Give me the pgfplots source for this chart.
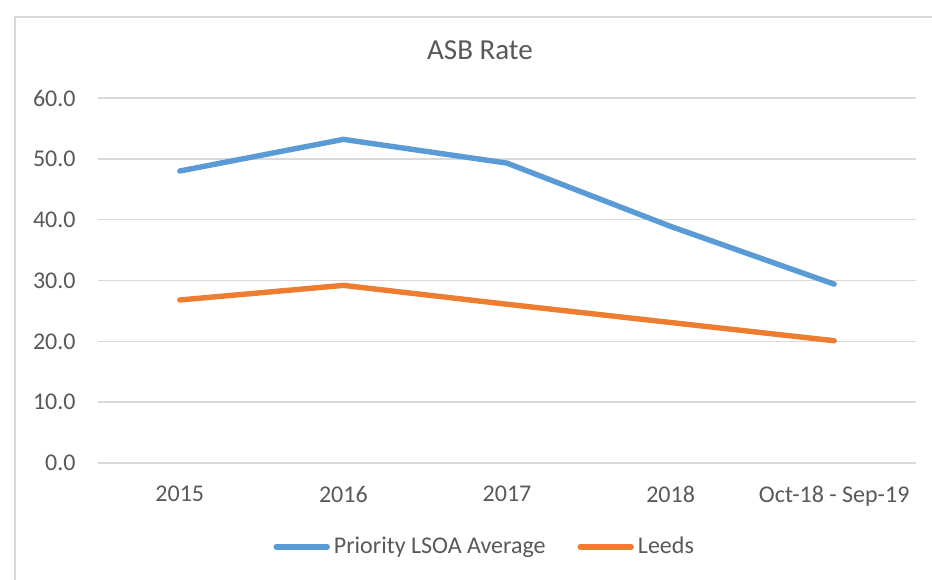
\documentclass[border=0pt]{standalone}
\usepackage{fontspec}
\setmainfont{Carlito}
\usepackage{pgfplots}
\pgfplotsset{compat=1.18}

\definecolor{xlblue}{HTML}{5B9BD5}
\definecolor{xlorange}{HTML}{ED7D31}
\definecolor{xlgrid}{HTML}{D9D9D9}
\definecolor{xltext}{HTML}{595959}

\begin{document}
\begin{tikzpicture}
  % page = 932x579 px at 0.5pt per px, axis origin at px (98,463)
  \useasboundingbox (-49pt,-58pt) rectangle (417pt,231.5pt);
  \fill[white] (-49pt,-58pt) rectangle (417pt,231.5pt);
  \draw[xlgrid, line width=0.75pt] (-41.5pt,-70pt) rectangle (430pt,223pt);
  \begin{axis}[
      at={(0pt,0pt)}, anchor=south west,
      scale only axis, width=409pt, height=182.5pt,
      xmin=-0.5, xmax=4.5, ymin=0, ymax=60,
      xtick={0,1,2,3,4},
      xticklabels={2015,2016,2017,2018,Oct-18 - Sep-19},
      ytick={0,10,...,60},
      yticklabel={\pgfmathprintnumber[fixed,fixed zerofill,precision=1]{\tick}},
      /pgf/number format/assume math mode=true,
      major tick length=0pt,
      axis line style={draw=none},
      ymajorgrids, grid style={xlgrid, line width=0.75pt},
      tick label style={font=\fontsize{12}{14}\selectfont, text=xltext},
      yticklabel style={inner sep=0pt, xshift=-11pt},
      xticklabel style={inner sep=0pt, yshift=-11.5pt},
      legend style={at={(axis description cs:0.474,-0.23)}, anchor=center,
        draw=none, fill=none, font=\fontsize{12}{14}\selectfont, text=xltext,
        legend columns=2, column sep=0pt, inner xsep=0pt,
        nodes={inner xsep=2pt},
        /tikz/every even column/.append style={column sep=14pt}},
      legend image code/.code={\draw[#1] (0pt,0pt) -- (25.5pt,0pt);},
      legend cell align=left,
    ]
    \addplot[xlblue, line width=2.7pt, line cap=round, line join=round] coordinates {
      (0,48.0) (1,53.2) (2,49.3) (3,38.9) (4,29.4)
    };
    \addlegendentry{Priority LSOA Average}
    \addplot[xlorange, line width=2.7pt, line cap=round, line join=round] coordinates {
      (0,26.8) (1,29.2) (2,26.1) (3,23.1) (4,20.1)
    };
    \addlegendentry{Leeds}
  \end{axis}
  \node[text=xltext, font=\fontsize{14.5}{17}\selectfont] at (191pt,206.5pt) {ASB Rate};
\end{tikzpicture}
\end{document}
